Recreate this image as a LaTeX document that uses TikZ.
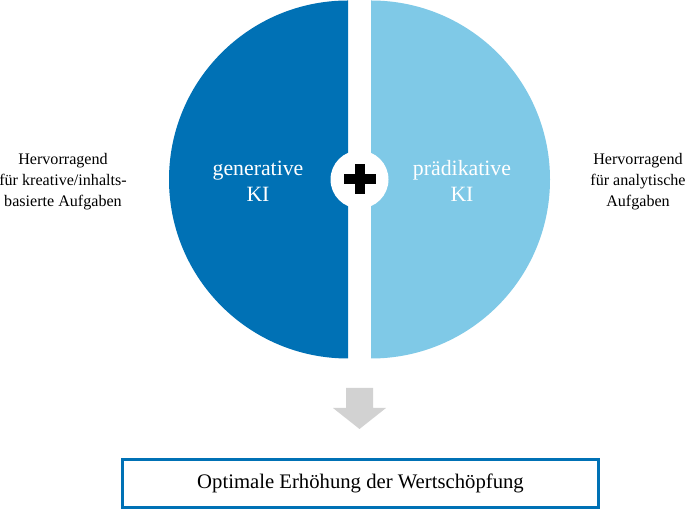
\documentclass[tikz,border=0pt]{standalone}
\usepackage{fontspec}
\setmainfont{Liberation Serif}
\usetikzlibrary{calc}
\definecolor{kidunkel}{HTML}{0071B5}
\definecolor{kihell}{HTML}{7FC9E7}
\definecolor{pfeilgrau}{HTML}{D2D2D2}
\begin{document}
\begin{tikzpicture}[x=1pt, y=1pt,
		seite/.style={align=center, font=\fontsize{16.1}{21}\selectfont},
		haelfte/.style={align=center, text=white, font=\fontsize{21.8}{26}\selectfont},
		ergebnis/.style={draw=kidunkel, line width=2.7pt, minimum width=476pt, minimum height=48pt, font=\fontsize{20.7}{24}\selectfont}]
			\useasboundingbox[fill=white] (0,0) rectangle (685,510);
			\coordinate (l) at (348,330.5);
			\coordinate (r) at (371,330.5);
			\fill[kidunkel] ($(l)+(0,179)$) arc[start angle=90, end angle=270, radius=179] -- cycle;
			\fill[kihell] ($(r)+(0,179)$) arc[start angle=90, end angle=-90, radius=179] -- cycle;
			\node[circle, fill=white, minimum size=58pt, inner sep=0pt] (plus) at ($(l)!0.5!(r)$) {};
			\fill[black] ($(plus)+(-16,-5)$) rectangle ++(32,10);
			\fill[black] ($(plus)+(-5,-15)$) rectangle ++(10,30);
			\node[haelfte] (gen) at (258,329) {generative\\KI};
			\node[haelfte] (praed) at (462,329) {prädikative\\KI};
			\node[seite] (links) at (63,328) {Hervorragend\\für kreative/inhalts-\\basierte Aufgaben};
			\node[seite] (rechts) at (638,328) {Hervorragend\\für analytische\\Aufgaben};
			\fill[pfeilgrau] (346,122) -- (373,122) -- (373,102) -- (386,102) -- (359.5,81) -- (333,102) -- (346,102) -- cycle;
			\node[ergebnis] (wert) at (360.5,26.5) {Optimale Erhöhung der Wertschöpfung};
		\end{tikzpicture}
\end{document}
